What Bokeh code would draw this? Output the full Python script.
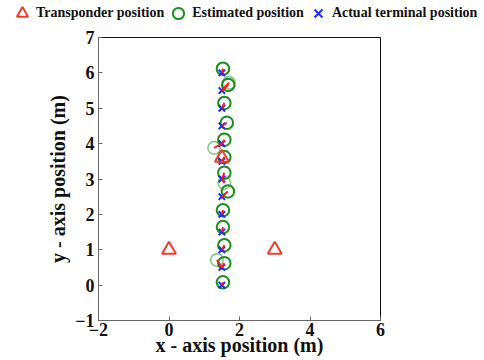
from bokeh.plotting import figure
from bokeh.models import Legend, LegendItem, FixedTicker, Range1d
from bokeh.embed import file_html
from bokeh.resources import INLINE

# ---- data ----
transponder_x = [0.0, 3.0, 1.5]
transponder_y = [1.0, 1.0, 3.6]

actual_y = [0.0, 0.5, 1.0, 1.5, 2.0, 2.5, 3.0, 3.5, 4.0, 4.5, 5.0, 5.5, 6.0]
actual_x = [1.5] * len(actual_y)

est_x = [1.53, 1.57, 1.57, 1.53, 1.53, 1.67, 1.57, 1.57, 1.57, 1.64, 1.57, 1.68, 1.53]
est_y = [0.08, 0.62, 1.13, 1.64, 2.12, 2.65, 3.18, 3.62, 4.11, 4.59, 5.15, 5.66, 6.12]

# extra (fainter) estimates and the actual positions they belong to
extra_x = [1.36, 1.57, 1.28, 1.70]
extra_y = [0.71, 2.89, 3.88, 5.72]
extra_ref_y = [0.5, 3.0, 4.0, 5.5]

x_ticks = [-2, 0, 2, 4, 6]
y_ticks = [-1, 0, 1, 2, 3, 4, 5, 6, 7]

legend_labels = ["Transponder position", "Estimated position", "Actual terminal position"]
# off-screen proxy point used only to give the legend strip's swatches a glyph
proxy_x = [-1.0]
proxy_y = [-1.0]

FONT = "Liberation Serif"
TRI_COLOR = "#f03c28"
EST_COLOR = "#1a8f1a"
ACT_COLOR = "#1a2aff"

# ---------------- main plot ----------------
p = figure(width=484, height=332, output_backend="svg", toolbar_location=None,
           x_range=Range1d(-2, 6), y_range=Range1d(-1, 7),
           min_border_left=98, min_border_right=104, min_border_top=9, min_border_bottom=40)
p.grid.visible = False
p.outline_line_color = "#111111"
p.outline_line_width = 1

for ax in (p.xaxis[0], p.yaxis[0]):
    ax.major_label_text_font = FONT
    ax.major_label_text_font_style = "bold"
    ax.major_label_text_font_size = "18px"
    ax.major_label_text_color = "#111111"
    ax.axis_line_color = "#666666"
    ax.major_tick_line_color = "#666666"
    ax.major_tick_in = 4
    ax.major_tick_out = 0
    ax.minor_tick_line_color = None
    ax.axis_label_text_font = FONT
    ax.axis_label_text_font_style = "bold"
    ax.axis_label_text_font_size = "20px"
    ax.axis_label_text_color = "#111111"
p.xaxis.ticker = FixedTicker(ticks=x_ticks)
p.yaxis.ticker = FixedTicker(ticks=y_ticks)
p.xaxis.major_label_standoff = 2
p.yaxis.major_label_standoff = 4
p.xaxis.axis_label = "x - axis position (m)"
p.yaxis.axis_label = "y - axis position (m)"
p.xaxis.axis_label_standoff = -5
p.yaxis.axis_label_standoff = 3

# circles (estimates)
p.scatter(est_x, est_y, marker="circle", size=12.5, fill_color=None,
          line_color=EST_COLOR, line_width=2)
p.scatter(extra_x, extra_y, marker="circle", size=12.5, fill_color=None,
          line_color=EST_COLOR, line_width=1.5, line_alpha=0.55)

# actual positions
p.scatter(actual_x, actual_y, marker="x", size=9, line_color=ACT_COLOR, line_width=2)

# error lines
seg_x0 = actual_x + [1.5] * len(extra_x)
seg_y0 = actual_y + extra_ref_y
seg_x1 = est_x + extra_x
seg_y1 = est_y + extra_y
p.segment(seg_x0, seg_y0, seg_x1, seg_y1, line_color="#ff1a1a", line_width=2)

# transponders
p.scatter(transponder_x, transponder_y, marker="triangle", size=14, fill_color=None,
          line_color=TRI_COLOR, line_width=2)

# ---------------- legend strip (separate root, full width) ----------------
lg = figure(width=484, height=28, output_backend="svg", toolbar_location=None,
            x_axis_type=None, y_axis_type=None, x_range=Range1d(0, 1), y_range=Range1d(0, 1),
            min_border_left=0, min_border_right=0, min_border_top=0, min_border_bottom=0)
lg.grid.visible = False
lg.outline_line_color = None
k_tr = lg.scatter(proxy_x, proxy_y, marker="triangle", fill_color=None, line_color=TRI_COLOR, line_width=2)
k_est = lg.scatter(proxy_x, proxy_y, marker="circle", fill_color=None, line_color=EST_COLOR, line_width=2)
k_act = lg.scatter(proxy_x, proxy_y, marker="x", line_color=ACT_COLOR, line_width=2)

legend = Legend(items=[
    LegendItem(label=legend_labels[0], renderers=[k_tr]),
    LegendItem(label=legend_labels[1], renderers=[k_est]),
    LegendItem(label=legend_labels[2], renderers=[k_act]),
], orientation="horizontal", location=(8, 0), border_line_color=None,
    background_fill_alpha=0, padding=0, margin=0, spacing=0,
    label_text_font=FONT, label_text_font_style="bold", label_text_font_size="14px",
    label_text_color="#111111",
    glyph_width=28, glyph_height=30, label_standoff=0, label_height=14)
lg.add_layout(legend, "center")

open("out.html", "w").write(file_html([lg, p], INLINE))
